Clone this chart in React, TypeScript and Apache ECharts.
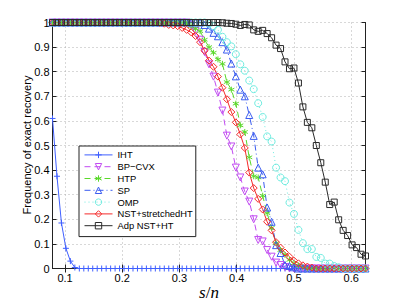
import React, { useEffect, useRef } from 'react';
import * as echarts from 'echarts';

// sparsity s (n = 128)
const S_VALUES = [10, 11, 12, 13, 14, 15, 16, 17, 18, 19, 20, 21, 22, 23, 24, 25, 26, 27, 28, 29, 30, 31, 32, 33, 34, 35, 36, 37, 38, 39, 40, 41, 42, 43, 44, 45, 46, 47, 48, 49, 50, 51, 52, 53, 54, 55, 56, 57, 58, 59, 60, 61, 62, 63, 64, 65, 66, 67, 68, 69, 70, 71, 72, 73, 74, 75, 76, 77, 78, 79, 80];
const N = 128;

const X_TICKS = [0.1, 0.2, 0.3, 0.4, 0.5, 0.6];

const IHT = [0.61, 0.375, 0.185, 0.082, 0.03, 0.004,
  0, 0, 0, 0, 0, 0, 0, 0, 0, 0, 0, 0, 0, 0, 0, 0, 0, 0, 0, 0, 0, 0, 0, 0, 0, 0, 0, 0, 0, 0, 0, 0, 0, 0, 0, 0, 0, 0, 0, 0, 0, 0, 0, 0, 0, 0, 0, 0, 0, 0, 0, 0, 0, 0, 0, 0, 0, 0, 0, 0, 0, 0, 0, 0, 0];

const BP_CVX = [1, 1, 1, 1, 1, 1, 1, 1, 1, 1, 1, 1, 1, 1, 1, 1, 1, 1, 1, 1, 1, 1, 1, 1, 1, 1, 1, 1, 1, 1, 1,
  0.99, 0.965, 0.93, 0.88, 0.83, 0.78, 0.715, 0.642, 0.54, 0.496, 0.41, 0.37, 0.313, 0.272, 0.2, 0.116, 0.11, 0.075, 0.048, 0.024, 0.014, 0.006,
  0, 0, 0, 0, 0, 0, 0, 0, 0, 0, 0, 0, 0, 0, 0, 0, 0, 0];

const HTP = [1, 1, 1, 1, 1, 1, 1, 1, 1, 1, 1, 1, 1, 1, 1, 1, 1, 1, 1, 1, 1, 1, 1, 1, 1, 1, 1, 1, 1, 1,
  0.995, 0.985, 0.975, 0.965, 0.93, 0.9, 0.877, 0.85, 0.832, 0.758, 0.727, 0.67, 0.582, 0.555, 0.452, 0.375, 0.37, 0.296, 0.225, 0.165, 0.103, 0.075, 0.055, 0.035, 0.021, 0.012, 0.006,
  0, 0, 0, 0, 0, 0, 0, 0, 0, 0, 0, 0, 0, 0];

const SP = [1, 1, 1, 1, 1, 1, 1, 1, 1, 1, 1, 1, 1, 1, 1, 1, 1, 1, 1, 1, 1, 1, 1, 1, 1, 1, 1, 1, 1, 1, 1, 1, 1, 1,
  0.99, 0.975, 0.958, 0.944, 0.92, 0.89, 0.833, 0.781, 0.727, 0.7, 0.624, 0.539, 0.41, 0.383, 0.248, 0.19, 0.095, 0.063, 0.014, 0.01, 0.005,
  0, 0, 0, 0, 0, 0, 0, 0, 0, 0, 0, 0, 0, 0, 0, 0];

const OMP = [1, 1, 1, 1, 1, 1, 1, 1, 1, 1, 1, 1, 1, 1, 1, 1, 1, 1, 1, 1, 1, 1, 1, 1, 1, 1, 1, 1, 1, 1, 1, 1, 1, 1, 1,
  0.995, 0.985, 0.97, 0.942, 0.92, 0.903, 0.871, 0.83, 0.804, 0.764, 0.729, 0.672, 0.616, 0.537, 0.516, 0.41, 0.37, 0.355, 0.268, 0.222, 0.157, 0.103, 0.079, 0.079, 0.047, 0.043, 0.02, 0.02, 0.01, 0.005,
  0, 0, 0, 0, 0, 0];

const NST_STRETCHED = [1, 1, 1, 1, 1, 1, 1, 1, 1, 1, 1, 1, 1, 1, 1, 1, 1, 1, 1, 1, 1, 1, 1, 1,
  0.998, 0.995, 0.99, 0.988, 0.985, 0.978, 0.97, 0.96, 0.945, 0.92, 0.885, 0.845, 0.82, 0.78, 0.735, 0.688, 0.636, 0.594, 0.545, 0.49, 0.39, 0.327, 0.283, 0.24, 0.19, 0.155, 0.107, 0.085, 0.065, 0.048, 0.032, 0.021, 0.013, 0.008, 0.004,
  0, 0, 0, 0, 0, 0, 0, 0, 0, 0, 0, 0];

const ADP_NST = [1, 1, 1, 1, 1, 1, 1, 1, 1, 1, 1, 1, 1, 1, 1, 1, 1, 1, 1, 1, 1, 1, 1, 1, 1, 1, 1, 1, 1, 1, 1, 1, 1, 1, 1, 1, 1, 1,
  0.999, 0.997, 0.996, 0.993, 0.988, 0.992, 0.99, 0.97, 0.964, 0.968, 0.955, 0.938, 0.908, 0.894, 0.84, 0.812, 0.815, 0.754, 0.657, 0.594, 0.572, 0.5, 0.43, 0.351, 0.26, 0.27, 0.198, 0.155, 0.134, 0.096, 0.085, 0.058, 0.051];

const NAMES = ['IHT', 'BP\u2212CVX', 'HTP', 'SP', 'OMP', 'NST+stretchedHT', 'Adp NST+HT'];
const COLORS = ['#3f5fff', '#c24cf2', '#5ad92a', '#3a5cf0', '#70ece0', '#f52a2a', '#2a2a2a'];

const FONT = '"Liberation Sans", Arial, sans-serif';
const SERIF = '"Liberation Serif", "DejaVu Serif", serif';
const PLUS = 'path://M0,5L10,5M5,0L5,10';
const STAR = 'path://M5,0L5,10M0.67,2.5L9.33,7.5M0.67,7.5L9.33,2.5';

function mk(idx: number, values: number[], symbol: string, size: number, dash: any, rotate = 0) {
  const color = COLORS[idx];
  return {
    name: NAMES[idx],
    type: 'line',
    data: S_VALUES.map((s, i) => [s / N, values[i]]),
    symbol,
    symbolSize: size,
    symbolRotate: rotate,
    showSymbol: true,
    showAllSymbol: true,
    clip: false,
    color,
    lineStyle: { color, width: 1, type: dash },
    itemStyle: { color: 'rgba(0,0,0,0)', borderColor: color, borderWidth: 1 },
    emphasis: { disabled: true },
    xAxisIndex: 0,
    yAxisIndex: 0,
  };
}

export default function App() {
  const ref = useRef<HTMLDivElement>(null);
  useEffect(() => {
    if (!ref.current) return;
    const chart = echarts.init(ref.current, null, { renderer: 'svg' });
    const axisLine = { show: true, lineStyle: { color: '#222', width: 1 } };
    const grid = { left: 52.5, right: 37.5, top: 22.5, bottom: 34.5 };
    chart.setOption({
      animation: false,
      backgroundColor: '#fff',
      grid,
      xAxis: [
        {
          type: 'value', min: S_VALUES[0] / N, max: S_VALUES[S_VALUES.length - 1] / N, position: 'bottom',
          axisLine,
          axisTick: { show: true, inside: true, length: 4, customValues: X_TICKS, lineStyle: { color: '#222' } },
          axisLabel: { customValues: X_TICKS, fontSize: 11, fontFamily: FONT, color: '#000', margin: 4 },
          splitLine: { show: true, lineStyle: { color: '#b0b0b0', type: [1, 3], width: 1 } },
        },
        {
          type: 'value', min: S_VALUES[0] / N, max: S_VALUES[S_VALUES.length - 1] / N, position: 'top',
          axisLine,
          axisTick: { show: true, inside: true, length: 4, customValues: X_TICKS, lineStyle: { color: '#222' } },
          axisLabel: { show: false },
          splitLine: { show: false },
        },
      ],
      yAxis: [
        {
          type: 'value', min: 0, max: 1, interval: 0.1, position: 'left',
          axisLine,
          axisTick: { show: true, inside: true, length: 4, lineStyle: { color: '#222' } },
          axisLabel: { fontSize: 11, fontFamily: FONT, color: '#000', margin: 3 },
          splitLine: { show: true, lineStyle: { color: '#b0b0b0', type: [1, 3], width: 1 } },
        },
        {
          type: 'value', min: 0, max: 1, interval: 0.1, position: 'right',
          axisLine,
          axisTick: { show: true, inside: true, length: 4, lineStyle: { color: '#222' } },
          axisLabel: { show: false },
          splitLine: { show: false },
        },
      ],
      legend: {
        orient: 'vertical',
        left: 79,
        top: 146,
        padding: [3, 3, 5, 5],
        itemGap: 0,
        itemWidth: 28,
        itemHeight: 8,
        backgroundColor: '#fff',
        borderColor: '#222',
        borderWidth: 1,
        selectedMode: false,
        textStyle: { fontSize: 9.4, fontFamily: FONT, color: '#000', lineHeight: 11.8 },
        data: NAMES.map((name, i) => ({
          name,
          itemStyle: { color: 'rgba(0,0,0,0)', borderColor: COLORS[i], borderWidth: 1 },
          lineStyle: { color: COLORS[i], width: 1 },
        })),
      },
      graphic: [
        {
          type: 'text', x: 27, y: 145, rotation: Math.PI / 2,
          style: { text: 'Frequency of exact recovery', font: `11px ${FONT}`, fill: '#000', textAlign: 'center', textVerticalAlign: 'middle' },
        },
        {
          type: 'text', x: 209, y: 292,
          style: {
            text: '{i|s}{n|/}{i|n}', textAlign: 'center', textVerticalAlign: 'middle',
            rich: {
              i: { fontFamily: SERIF, fontStyle: 'italic', fontSize: 17, fill: '#000' },
              n: { fontFamily: SERIF, fontSize: 17, fill: '#000' },
            },
          },
        },
      ],
      series: [
        mk(0, IHT, PLUS, 6, 'solid'),
        mk(1, BP_CVX, 'triangle', 7, [6, 4], 180),
        mk(2, HTP, STAR, 6, [6, 4]),
        mk(3, SP, 'triangle', 7, [6, 3, 1, 3]),
        mk(4, OMP, 'circle', 7, [1, 3]),
        mk(5, NST_STRETCHED, 'diamond', 7, 'solid'),
        mk(6, ADP_NST, 'rect', 6, 'solid'),
      ],
    });
    return () => chart.dispose();
  }, []);
  return <div ref={ref} style={{ position: 'fixed', left: 0, top: 0, width: 403, height: 303, background: '#fff' }} />;
}
